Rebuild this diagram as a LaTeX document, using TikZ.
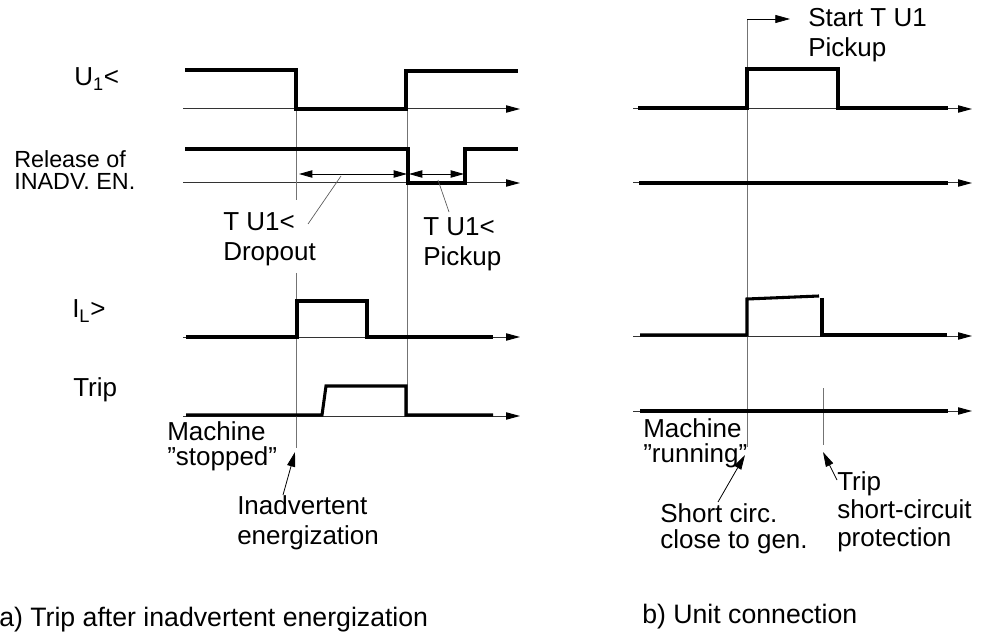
\documentclass[tikz,border=0pt]{standalone}
\usepackage{fontspec}
\setmainfont{Liberation Sans}
\usetikzlibrary{arrows.meta}
\tikzset{
  sig/.style={line width=2.3pt, line join=miter},
  axis/.style={line width=0.75pt, black!80, -{Triangle[length=10.5pt,width=5.5pt,black]}},
  guide/.style={line width=0.6pt, black!55},
  dim/.style={line width=0.6pt, {Triangle[length=10pt,width=5.5pt]}-{Triangle[length=10pt,width=5.5pt]}},
  lead/.style={line width=0.5pt, black!65},
  leadarr/.style={line width=0.6pt, -{Triangle[length=11pt,width=6pt]}},
  lbl/.style={anchor=west, inner sep=0pt, align=left,
    font=\fontsize{19.5}{21.5}\selectfont},
  wide/.style={lbl, font=\fontsize{19.5}{22.5}\selectfont},
  tight/.style={lbl, font=\fontsize{19.5}{19}\selectfont},
  captxt/.style={lbl, font=\fontsize{20}{22}\selectfont}
}

\begin{document}
\begin{tikzpicture}[x=0.75pt, y=-0.75pt]
  \useasboundingbox (0,0) rectangle (984,634);

  % signal names
  \node[lbl] (uname) at (74,79) {U\textsubscript{1}<};
  \node[lbl, font=\fontsize{17.5}{17}\selectfont] (relname) at (14,170) {Release of\\INADV. EN.};
  \node[lbl] (ilname) at (72,311) {I\textsubscript{L}>};
  \node[lbl] (tripname) at (73,390) {Trip};

  % a) axes
  \foreach \y in {109,183,337,416}
    \draw[axis] (183,\y) -- (520,\y);

  % a) guides
  \draw[guide] (296,109) -- (296,200);
  \draw[guide] (296,273) -- (296,448);
  \draw[guide] (407,109) -- (407,416);

  % a) signals
  \draw[sig] (185,70) -- (296,70) -- (296,109) -- (406,109) -- (406,71) -- (518,71);
  \draw[sig] (185,149) -- (408,149) -- (408,183) -- (465,183) -- (465,149) -- (518,149);
  \draw[sig] (186,337) -- (297,337) -- (297,301) -- (367,301) -- (367,337) -- (493,337);
  \draw[sig] (186,415) -- (322,415) -- (326,386) -- (406,386) -- (406,415) -- (493,415);

  % a) timers
  \draw[dim] (299,174) -- (407,174);
  \draw[dim] (409,174) -- (464,174);
  \node[wide] (dropout) at (223,239) {T U1<\\Dropout};
  \node[wide] (pickup) at (423,244) {T U1<\\Pickup};
  \coordinate (dropend) at (341,176);
  \coordinate (dropfoot) at (308,224);
  \coordinate (pickend) at (438,180);
  \coordinate (pickfoot) at (449,212);
  \draw[lead] (dropfoot) -- (dropend);
  \draw[lead] (pickfoot) -- (pickend);

  % a) events
  \node[tight] (stopped) at (167,446) {Machine\\”stopped”};
  \node[wide] (inadv) at (237,523) {Inadvertent\\energization};
  \coordinate (inadvtip) at (295,452);
  \coordinate (inadvfoot) at (283,495);
  \draw[leadarr] (inadvfoot) -- (inadvtip);
  \node[captxt] (capa) at (-1,620) {a) Trip after inadvertent energization};

  % b) axes
  \foreach \y in {109,183,336,411}
    \draw[axis] (633,\y) -- (972,\y);

  % b) guides
  \coordinate (starttip) at (790,19);
  \draw[guide] (747,447) -- (747,19);
  \draw[leadarr, line width=0.5pt] (747,19) -- (starttip);
  \node[wide] (startlbl) at (808,35) {Start T U1\\Pickup};
  \draw[guide] (823,388) -- (823,445);

  % b) signals
  \draw[sig] (638,108) -- (747,108) -- (747,69) -- (838,69) -- (838,108) -- (948,108);
  \draw[sig] (639,183) -- (948,183);
  \draw[sig] (640,335) -- (747,335) -- (747,299) -- (819,296);
  \draw[sig] (822,298) -- (822,335) -- (947,335);
  \draw[sig] (640,411) -- (948,411);

  % b) events
  \node[tight] (running) at (643,443) {Machine\\”running”};
  \node[lbl, font=\fontsize{19.5}{19.5}\selectfont] (shortc) at (660,529) {Short circ.\\close to gen.};
  \node[lbl, font=\fontsize{19.5}{21}\selectfont] (tripsc) at (837,512) {Trip\\short-circuit\\protection};
  \coordinate (shorttip) at (745,455);
  \coordinate (shortfoot) at (718,502);
  \coordinate (triptip) at (823,452);
  \coordinate (tripfoot) at (837,480);
  \draw[leadarr] (shortfoot) -- (shorttip);
  \draw[leadarr] (tripfoot) -- (triptip);
  \node[captxt] (capb) at (642,617) {b) Unit connection};
\end{tikzpicture}
\end{document}
